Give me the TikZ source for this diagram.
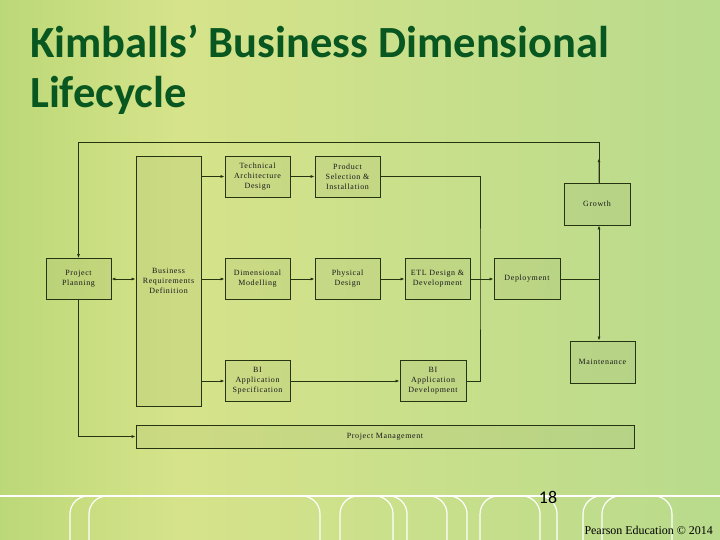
\documentclass[tikz,border=0pt]{standalone}
\usepackage{fontspec}
\setmainfont{Liberation Serif}
\newfontfamily\titlefont{Carlito}
\newfontfamily\boxfont[LetterSpace=8]{Liberation Serif}
\usetikzlibrary{arrows.meta,calc}
\definecolor{bgleft}{RGB}{134,195,84}
\definecolor{bgmid}{RGB}{214,227,138}
\definecolor{bgright}{RGB}{156,211,142}
\definecolor{titlegreen}{RGB}{8,86,32}
\definecolor{boxline}{RGB}{38,52,18}
\pgfdeclarehorizontalshading{slidebg}{100bp}{color(0bp)=(bgleft); color(37.5bp)=(bgmid); color(78bp)=(bgright!55!bgmid); color(100bp)=(bgright)}

\begin{document}
\begin{tikzpicture}[x=1bp,y=-1bp,
  box/.style={draw=boxline,line width=.8bp,fill=black,fill opacity=.04,text opacity=1,
    minimum width=65bp,minimum height=41bp,inner sep=1bp,align=center,
    font=\boxfont\fontsize{8}{10}\selectfont,text=black!90},
  link/.style={draw=boxline,line width=.7bp},
  arr/.style={link,-{Latex[length=4bp,width=3bp]}}]
 \useasboundingbox (0,0) rectangle (720,540);
 \shade[shading=slidebg] (0,0) rectangle (720,540);
 % title
 \node[anchor=base west,inner sep=0,text=titlegreen,font=\titlefont\bfseries\fontsize{44.7}{50}\selectfont] (title1) at (30,58) {Kimballs’ Business Dimensional};
 \node[anchor=base west,inner sep=0,text=titlegreen,font=\titlefont\bfseries\fontsize{44.7}{50}\selectfont] (title2) at (30,108) {Lifecycle};
 % boxes
 \node[box] (plan) at (78.5,279) {Project\\Planning};
 \node[box,minimum height=250bp] (brd) at (168.5,281) {Business\\Requirements\\Definition};
 \node[box] (tad) at (257.5,176.5) {Technical\\Architecture\\Design};
 \node[box] (psi) at (347.5,176.5) {Product\\Selection \&\\Installation};
 \node[box] (dim) at (257.5,279) {Dimensional\\Modelling};
 \node[box] (phys) at (347.5,279) {Physical\\Design};
 \node[box] (etl) at (437.5,279) {ETL Design \&\\Development};
 \node[box,minimum width=66bp] (depl) at (527,279) {Deployment};
 \node[box,minimum width=66bp,minimum height=42bp] (grow) at (597,204) {Growth};
 \node[box,minimum height=42bp] (maint) at (602.5,362) {Maintenance};
 \node[box] (bis) at (257.5,381) {BI\\Application\\Specification};
 \node[box,minimum width=66bp] (bid) at (433,381) {BI\\Application\\Development};
 \node[box,minimum width=498bp,minimum height=23bp] (pm) at (385,436.5) {Project Management};
 % connectors
 \draw[{Latex[length=4bp,width=3bp]}-{Latex[length=4bp,width=3bp]},link] (plan) -- (brd.west |- plan);
 \draw[arr] (brd.east |- tad) -- (tad);
 \draw[arr] (tad) -- (psi);
 \draw[arr] (brd.east |- dim) -- (dim);
 \draw[arr] (dim) -- (phys);
 \draw[arr] (phys) -- (etl);
 \draw[arr] (etl) -- (depl);
 \draw[arr] (brd.east |- bis) -- (bis);
 \draw[arr] (bis) -- (bid);
 \coordinate (bus) at (480,279);
 \draw[link] (psi.east) -| (bus) |- (bid.east);
 \coordinate (fork) at (599,279);
 \draw[link] (depl) -- (fork);
 \draw[arr] (fork) -- (fork |- grow.south);
 \draw[arr] (fork) -- (fork |- maint.north);
 \coordinate (topR) at (599,142);
 \draw[arr] (fork |- grow.north) -- ($(fork |- grow.north)!.6!(topR)$);
 \draw[arr] (fork |- grow.north) -- (topR) -| (plan.north);
 \draw[arr] (plan.south) |- (pm.west);
 % footer
 \draw[white,line width=1.2bp] (0,496) -- (720,496);
 \foreach \x in {70,89,340,480,583,602}
  \draw[white,line width=1.2bp,rounded corners=18bp] (\x,541) -- (\x,496) -- (\x+40,496);
 \foreach \x in {320,393,407,447,467,540,557,672}
  \draw[white,line width=1.2bp,rounded corners=18bp] (\x-40,496) -- (\x,496) -- (\x,541);
 \node[font=\titlefont\fontsize{18}{18}\selectfont,inner sep=0] (page) at (548,497) {18};
 \node[anchor=base east,inner sep=0,font=\fontsize{12}{12}\selectfont] (credit) at (713,534) {Pearson Education © 2014};
\end{tikzpicture}
\end{document}
